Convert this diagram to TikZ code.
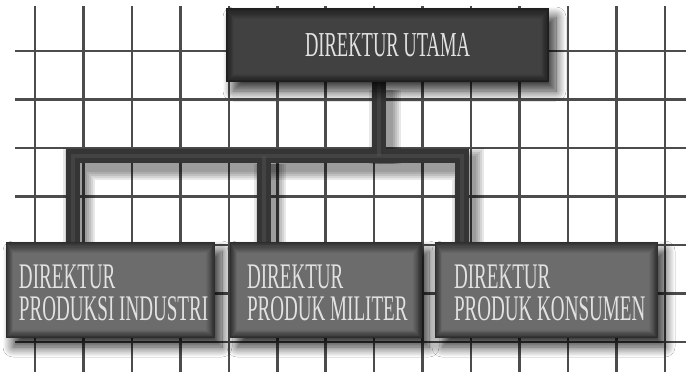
\documentclass[tikz,border=0pt]{standalone}
\usepackage{fontspec}
\newfontfamily\condfont[FakeStretch=0.53]{Liberation Serif}
\usetikzlibrary{shadows.blur}
\definecolor{gridc}{HTML}{4C4C4C}
\definecolor{topedge}{HTML}{1E1E1E}
\definecolor{topmid}{HTML}{414141}
\definecolor{lowedge}{HTML}{2E2E2E}
\definecolor{lowmid}{HTML}{6C6C6C}
\definecolor{barc}{HTML}{353535}
\definecolor{barhi}{HTML}{555555}
\definecolor{textc}{HTML}{E2E2E2}
\begin{document}
\begin{tikzpicture}[x=1pt,y=-1pt,
  gridline/.style={draw=gridc, line width=2.6pt},
  boxbase/.style={inner sep=0pt, draw=none,
    blur shadow={shadow xshift=7pt, shadow yshift=-9pt, shadow blur radius=10pt, shadow blur steps=14, shadow opacity=80}},
  topbox/.style={boxbase, fill=topedge, font=\condfont\fontsize{35}{32}\selectfont, text=textc,
    path picture={\foreach \k in {1,...,10}{\pgfmathtruncatemacro\p{\k*10}
      \fill[topmid!\p!topedge] ([shift={(0.8*\k,1.1*\k)}]path picture bounding box.north west) rectangle ([shift={(-0.8*\k,-0.8*\k)}]path picture bounding box.south east);}}},
  lowbox/.style={boxbase, fill=lowedge,
    path picture={\foreach \k in {1,...,10}{\pgfmathtruncatemacro\p{\k*10}
      \fill[lowmid!\p!lowedge] ([shift={(0.7*\k,1.1*\k)}]path picture bounding box.north west) rectangle ([shift={(-0.9*\k,-0.8*\k)}]path picture bounding box.south east);}}},
  lbl/.style={inner sep=0pt, align=left, anchor=west, text=textc, font=\condfont\fontsize{36}{32}\selectfont},
  conn/.style={draw=barc, line width=14pt, line join=miter},
  connhi/.style={draw=barhi, line width=4pt, line join=miter, opacity=0.45},
  connshadow/.style={draw=black, line join=miter, opacity=0.09}
]
\useasboundingbox (0,0) rectangle (697,372);
\fill[white] (0,0) rectangle (697,372);
% grid
\foreach \i in {0,...,13} \draw[gridline] ({35+48.45*\i},6) -- ({35+48.45*\i},372);
\foreach \j in {0,...,6} \draw[gridline] (15,{51+48.5*\j}) -- (686,{51+48.5*\j});

\coordinate (jm) at (378.5,156);
\coordinate (dl) at (72.5,156);
\coordinate (dm) at (263.5,156);
\coordinate (dr) at (462,156);

% placeholders giving the box anchors
\path (387.5,45) node[minimum width=323pt, minimum height=74pt, inner sep=0pt] (top) {};
\path (110.5,290) node[minimum width=209pt, minimum height=96pt, inner sep=0pt] (b1) {};
\path (326,290) node[minimum width=192pt, minimum height=96pt, inner sep=0pt] (b2) {};
\path (546.5,290) node[minimum width=223pt, minimum height=96pt, inner sep=0pt] (b3) {};

% connector shadows
\begin{scope}[transform canvas={shift={(6pt,-8pt)}}]
\foreach \w in {32,28,24,20,16}{
  \draw[connshadow, line width=\w pt] (top.south -| jm) -- (jm);
  \draw[connshadow, line width=\w pt] (b1.north -| dl) -- (dl) -- (dr) -- (b3.north -| dr);
  \draw[connshadow, line width=\w pt] (dm) -- (b2.north -| dm);
}
\end{scope}
% connectors
\draw[conn] (top.south -| jm) -- (jm);
\draw[conn] (b1.north -| dl) -- (dl) -- (dr) -- (b3.north -| dr);
\draw[conn] (dm) -- (b2.north -| dm);
\draw[connhi] (top.south -| jm) -- (jm);
\draw[connhi] (b1.north -| dl) -- (dl) -- (dr) -- (b3.north -| dr);
\draw[connhi] (dm) -- (b2.north -| dm);

% boxes
\node[topbox, minimum width=323pt, minimum height=74pt] (topbox) at (top) {DIREKTUR UTAMA};
\node[lowbox, minimum width=209pt, minimum height=96pt] (box1) at (b1) {};
\node[lowbox, minimum width=192pt, minimum height=96pt] (box2) at (b2) {};
\node[lowbox, minimum width=223pt, minimum height=96pt] (box3) at (b3) {};

\node[lbl] (t1) at ([xshift=13pt, yshift=-3pt]box1.west) {DIREKTUR\\PRODUKSI INDUSTRI};
\node[lbl] (t2) at ([xshift=17pt, yshift=-3pt]box2.west) {DIREKTUR\\PRODUK MILITER};
\node[lbl] (t3) at ([xshift=19pt, yshift=-3pt]box3.west) {DIREKTUR\\PRODUK KONSUMEN};
\end{tikzpicture}
\end{document}
